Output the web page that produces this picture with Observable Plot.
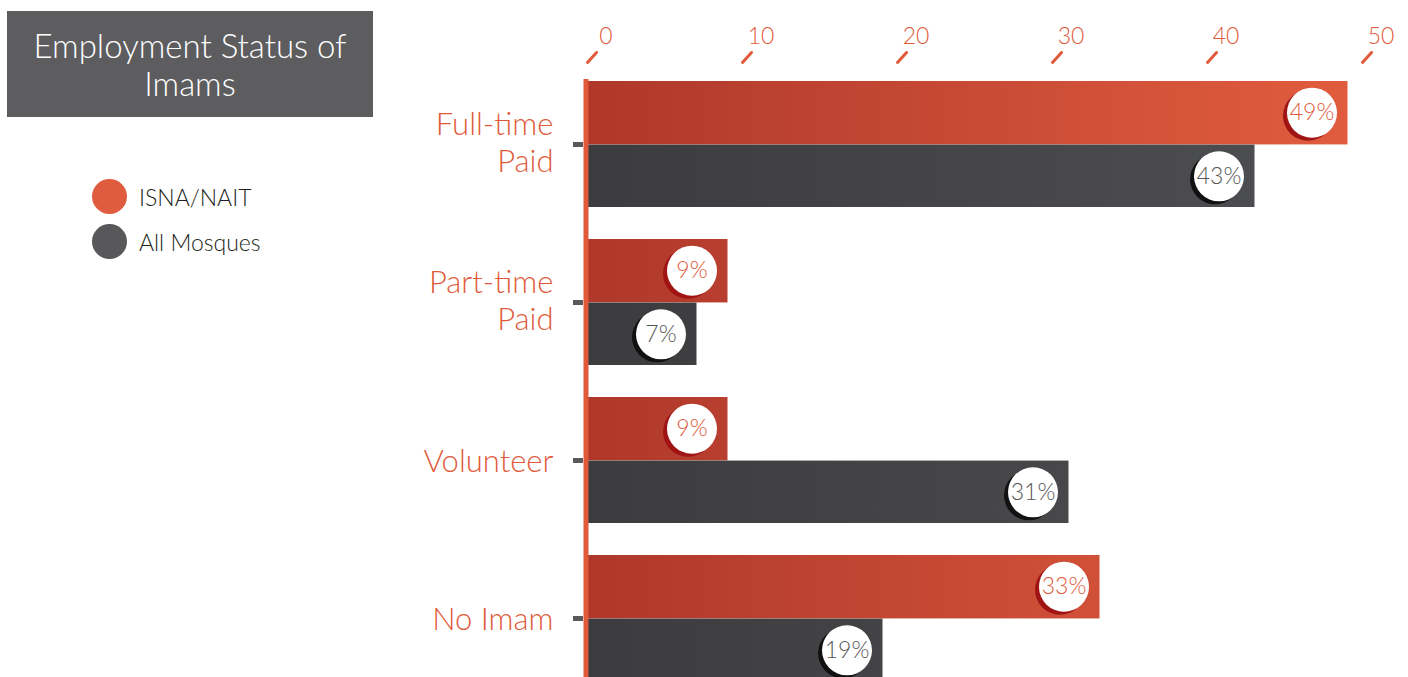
<!DOCTYPE html>
<html>
<head>
<meta charset="utf-8">
<script src="https://cdn.jsdelivr.net/npm/d3@7"></script>
<script src="https://cdn.jsdelivr.net/npm/@observablehq/plot@0.6"></script>
<style>
  html, body { margin: 0; padding: 0; background: #fff; overflow: hidden; }
  #wrap { position: relative; width: 1408px; height: 677px; overflow: hidden; font-family: Lato, "Open Sans", sans-serif; }
  #chart { position: absolute; left: 0; top: 0; }
  #title { position: absolute; left: 7px; top: 11px; width: 366px; height: 106px; background: #5d5d5f; color: #fff;
           font: 300 33px Lato, sans-serif; line-height: 38px; text-align: center; display: flex; align-items: center; justify-content: center; }
  .legend-item { position: absolute; left: 92px; display: flex; align-items: center; font: 300 23px Lato, sans-serif; color: #231f20; }
  .legend-item .sw { width: 35px; height: 35px; border-radius: 50%; margin-right: 12px; }
  g[aria-label="shadow"] circle { filter: blur(1.6px); }
</style>
</head>
<body>
<div id="wrap">
  <div id="chart"></div>
  <div id="title">Employment Status of<br>Imams</div>
  <div id="legend"></div>
</div>
<script>
const categories = ["Full-time Paid", "Part-time Paid", "Volunteer", "No Imam"];
const categoryLabels = ["Full-time\nPaid", "Part-time\nPaid", "Volunteer", "No Imam"];
const isnaNait = [49, 9, 9, 33];
const allMosques = [43, 7, 31, 19];
const xTicks = [0, 10, 20, 30, 40, 50];
const seriesNames = ["ISNA/NAIT", "All Mosques"];
const seriesColors = ["#e05c3e", "#58585a"];

const data = categories.map((c, i) => ({cat: c, isna: isnaNait[i], all: allMosques[i]}));

// legend
const legend = document.getElementById("legend");
seriesNames.forEach((name, i) => {
  const item = document.createElement("div");
  item.className = "legend-item";
  item.style.top = (179 + i * 45) + "px";
  item.innerHTML = `<span class="sw" style="background:${seriesColors[i]}"></span><span>${name}</span>`;
  legend.appendChild(item);
});

const W = 1408, H = 700;
const mTop = 79, mBottom = 17, mLeft = 588, mRight = 45;
const padIn = 0.2;
const step = (H - mTop - mBottom) / (categories.length - padIn);
const bw = step * (1 - padIn);
const orange = "#e05a3a";

function defsMark(index, scales) {
  const x0 = scales && scales.x ? scales.x(0) : mLeft;
  const x1 = scales && scales.x ? scales.x(49) : 1348;
  const g = d3.create("svg:g");
  const defs = g.append("defs");
  const go = defs.append("linearGradient").attr("id", "gradO").attr("gradientUnits", "userSpaceOnUse")
    .attr("x1", x0).attr("x2", x1).attr("y1", 0).attr("y2", 0);
  go.append("stop").attr("offset", 0).attr("stop-color", "#af382b");
  go.append("stop").attr("offset", 1).attr("stop-color", "#e15c3e");
  const gg = defs.append("linearGradient").attr("id", "gradG").attr("gradientUnits", "userSpaceOnUse")
    .attr("x1", x0).attr("x2", x1).attr("y1", 0).attr("y2", 0);
  gg.append("stop").attr("offset", 0).attr("stop-color", "#3c3c3e");
  gg.append("stop").attr("offset", 1).attr("stop-color", "#4e4f52");
  return g.node();
}

const slash = {
  draw(context, l) { context.moveTo(0, 0); context.lineTo(0, -l); }
};

const labelFmt = (d) => categoryLabels[categories.indexOf(d)];
const multiLine = categories.filter((c, i) => categoryLabels[i].includes("\n"));
const singleLine = categories.filter((c, i) => !categoryLabels[i].includes("\n"));
const yLabelStyle = {tickSize: 0, tickPadding: 30, dx: -5, fill: orange, fontSize: 31, fontWeight: 300, lineHeight: 1.2, tickFormat: labelFmt};

const chart = Plot.plot({
  width: W,
  height: H,
  marginTop: mTop,
  marginBottom: mBottom,
  marginLeft: mLeft,
  marginRight: mRight,
  style: {fontFamily: "Lato, sans-serif", background: "transparent", overflow: "visible"},
  x: {domain: [0, 50], label: null},
  y: {domain: categories, paddingInner: padIn, paddingOuter: 0, label: null},
  marks: [
    defsMark,
    Plot.barX(data, {x: "isna", y: "cat", fill: "url(#gradO)", insetBottom: bw / 2 - 1}),
    Plot.barX(data, {x: "all", y: "cat", fill: "url(#gradG)", insetTop: bw / 2}),
    Plot.ruleX([0], {stroke: orange, strokeWidth: 5, dx: -2.5}),
    Plot.axisY({tickSize: 10, tickPadding: 20, dx: -5, stroke: "#5a5a5a", strokeWidth: 5, text: null}),
    Plot.axisY({...yLabelStyle, ticks: multiLine, dy: -3}),
    Plot.axisY({...yLabelStyle, ticks: singleLine, dy: 0}),
    Plot.axisX({anchor: "top", ticks: xTicks, tickSize: 0, tickPadding: 36, dx: 17.5, fill: orange, fontSize: 23, fontWeight: 300}),
    Plot.vector(xTicks, {x: (d) => d, frameAnchor: "top", dy: -17, dx: -1, length: 13.5, rotate: 42, anchor: "start",
                stroke: orange, strokeWidth: 3, strokeLinecap: "round", shape: slash}),
    // shadows
    Plot.dot(data, {x: "isna", y: "cat", dx: -40, dy: -bw / 4 + 3, r: 25, fill: "#a01414", ariaLabel: "shadow"}),
    Plot.dot(data, {x: "all", y: "cat", dx: -40, dy: bw / 4 + 3, r: 25, fill: "#111", ariaLabel: "shadow"}),
    // white circles
    Plot.dot(data, {x: "isna", y: "cat", dx: -36, dy: -bw / 4, r: 25, fill: "white"}),
    Plot.dot(data, {x: "all", y: "cat", dx: -36, dy: bw / 4, r: 25, fill: "white"}),
    Plot.text(data, {x: "isna", y: "cat", dx: -36, dy: -bw / 4, text: (d) => d.isna + "%", fill: orange, fontSize: 23, fontWeight: 300}),
    Plot.text(data, {x: "all", y: "cat", dx: -36, dy: bw / 4, text: (d) => d.all + "%", fill: "#555", fontSize: 23, fontWeight: 300})
  ]
});
document.getElementById("chart").appendChild(chart);
</script>
</body>
</html>
